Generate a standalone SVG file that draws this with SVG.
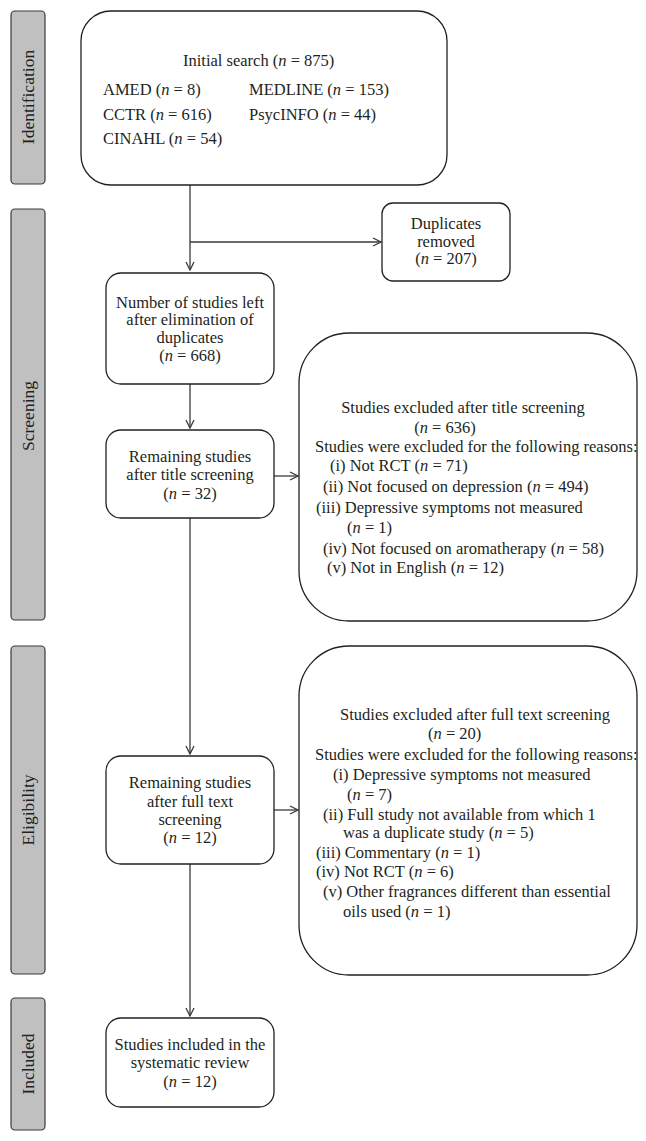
<svg xmlns="http://www.w3.org/2000/svg" width="646" height="1141" viewBox="0 0 646 1141">
<style>
text{font-family:"Liberation Serif","Times New Roman",serif;font-size:16.5px;fill:#231f20}
.c{text-anchor:middle}
.i{font-style:italic}
.lbl{font-size:17.5px}
.bar{fill:#c0c0c0;stroke:#3a3a3a;stroke-width:1.2}
.box{fill:#fff;stroke:#231f20;stroke-width:1.3}
.ln{fill:none;stroke:#3a3a3a;stroke-width:1.3}
</style>
<defs>
<marker id="ah" viewBox="0 0 10 10" refX="9" refY="5" markerWidth="10" markerHeight="10" markerUnits="userSpaceOnUse" orient="auto">
<path d="M1,1 L9,5 L1,9" fill="none" stroke="#3a3a3a" stroke-width="1.3"/>
</marker>
</defs>
<rect width="646" height="1141" fill="#fff"/>

<g id="phase-identification">
<rect class="bar" x="11" y="11" width="34" height="173" rx="4"/>
<text class="c lbl" transform="translate(34,97) rotate(-90)">Identification</text>
</g>
<g id="phase-screening">
<rect class="bar" x="11" y="209" width="34" height="411" rx="4"/>
<text class="c lbl" transform="translate(34,416) rotate(-90)">Screening</text>
</g>
<g id="phase-eligibility">
<rect class="bar" x="11" y="646" width="34" height="328" rx="4"/>
<text class="c lbl" transform="translate(34,810) rotate(-90)">Eligibility</text>
</g>
<g id="phase-included">
<rect class="bar" x="11" y="998" width="34" height="132" rx="4"/>
<text class="c lbl" transform="translate(34,1064) rotate(-90)">Included</text>
</g>

<g id="connectors">
<line class="ln" x1="190" y1="185" x2="190" y2="270" marker-end="url(#ah)"/>
<line class="ln" x1="190" y1="242" x2="381" y2="242" marker-end="url(#ah)"/>
<line class="ln" x1="190" y1="384" x2="190" y2="428" marker-end="url(#ah)"/>
<line class="ln" x1="274" y1="476" x2="298" y2="476" marker-end="url(#ah)"/>
<line class="ln" x1="190" y1="518" x2="190" y2="754" marker-end="url(#ah)"/>
<line class="ln" x1="274" y1="810" x2="298" y2="810" marker-end="url(#ah)"/>
<line class="ln" x1="190" y1="864" x2="190" y2="1016" marker-end="url(#ah)"/>
</g>

<g id="initial-search">
<rect class="box" x="81" y="11" width="366" height="174" rx="30"/>
<text x="183" y="66">Initial search (<tspan class="i">n</tspan> = 875)</text>
<text x="103" y="95">AMED (<tspan class="i">n</tspan> = 8)</text>
<text x="249" y="95">MEDLINE (<tspan class="i">n</tspan> = 153)</text>
<text x="103" y="120">CCTR (<tspan class="i">n</tspan> = 616)</text>
<text x="249" y="120">PsycINFO (<tspan class="i">n</tspan> = 44)</text>
<text x="103" y="144">CINAHL (<tspan class="i">n</tspan> = 54)</text>
</g>

<g id="duplicates-removed">
<rect class="box" x="382" y="203" width="128" height="78" rx="11"/>
<text class="c" x="446" y="229">Duplicates</text>
<text class="c" x="446" y="247">removed</text>
<text class="c" x="446" y="264">(<tspan class="i">n</tspan> = 207)</text>
</g>

<g id="after-duplicates">
<rect class="box" x="106" y="273" width="168" height="111" rx="15"/>
<text class="c" x="190" y="308">Number of studies left</text>
<text class="c" x="190" y="325">after elimination of</text>
<text class="c" x="190" y="343">duplicates</text>
<text class="c" x="190" y="361">(<tspan class="i">n</tspan> = 668)</text>
</g>

<g id="after-title">
<rect class="box" x="106" y="430" width="168" height="88" rx="15"/>
<text class="c" x="190" y="462">Remaining studies</text>
<text class="c" x="190" y="480">after title screening</text>
<text class="c" x="190" y="499">(<tspan class="i">n</tspan> = 32)</text>
</g>

<g id="excluded-title">
<rect class="box" x="299" y="333" width="338" height="288" rx="50"/>
<text class="c" x="463" y="413">Studies excluded after title screening</text>
<text class="c" x="445" y="433">(<tspan class="i">n</tspan> = 636)</text>
<text x="315" y="452">Studies were excluded for the following reasons:</text>
<text x="330" y="471">(i) Not RCT (<tspan class="i">n</tspan> = 71)</text>
<text x="323" y="492">(ii) Not focused on depression (<tspan class="i">n</tspan> = 494)</text>
<text x="316" y="513">(iii) Depressive symptoms not measured</text>
<text x="347" y="533">(<tspan class="i">n</tspan> = 1)</text>
<text x="323" y="554">(iv) Not focused on aromatherapy (<tspan class="i">n</tspan> = 58)</text>
<text x="327" y="573">(v) Not in English (<tspan class="i">n</tspan> = 12)</text>
</g>

<g id="after-fulltext">
<rect class="box" x="106" y="756" width="168" height="108" rx="15"/>
<text class="c" x="190" y="788">Remaining studies</text>
<text class="c" x="190" y="807">after full text</text>
<text class="c" x="190" y="825">screening</text>
<text class="c" x="190" y="843">(<tspan class="i">n</tspan> = 12)</text>
</g>

<g id="excluded-fulltext">
<rect class="box" x="299" y="646" width="338" height="329" rx="50"/>
<text class="c" x="475" y="720">Studies excluded after full text screening</text>
<text x="428" y="739">(<tspan class="i">n</tspan> = 20)</text>
<text x="315" y="760">Studies were excluded for the following reasons:</text>
<text x="333" y="780">(i) Depressive symptoms not measured</text>
<text x="347" y="800">(<tspan class="i">n</tspan> = 7)</text>
<text x="323" y="820">(ii) Full study not available from which 1</text>
<text x="343" y="838">was a duplicate  study (<tspan class="i">n</tspan> = 5)</text>
<text x="316" y="858">(iii) Commentary (<tspan class="i">n</tspan> = 1)</text>
<text x="316" y="877">(iv) Not RCT (<tspan class="i">n</tspan> = 6)</text>
<text x="323" y="897">(v) Other fragrances different than essential</text>
<text x="343" y="917">oils used (<tspan class="i">n</tspan> = 1)</text>
</g>

<g id="included">
<rect class="box" x="106" y="1018" width="168" height="89" rx="15"/>
<text class="c" x="190" y="1050">Studies included in the</text>
<text class="c" x="190" y="1068">systematic review</text>
<text class="c" x="190" y="1087">(<tspan class="i">n</tspan> = 12)</text>
</g>
</svg>
